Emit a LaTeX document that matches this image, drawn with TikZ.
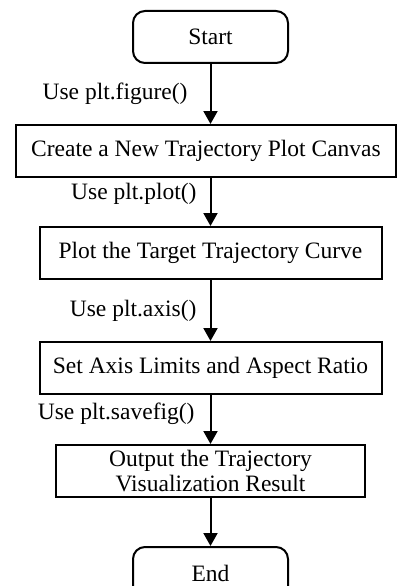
\documentclass[tikz,border=0pt]{standalone}
\usepackage{fontspec}
\setmainfont{Liberation Serif}
\usetikzlibrary{
  arrows.meta,
  positioning
}

\begin{document}
\begin{tikzpicture}[
  node distance=48pt,
  font=\fontsize{23.5}{24.5}\selectfont,
  terminal/.style={
    rectangle,
    rounded corners=12pt,
    draw,
    line width=2pt,
    minimum width=155pt,
    minimum height=52pt,
    inner sep=0pt
  },
  process/.style={
    rectangle,
    draw,
    line width=2pt,
    minimum height=52pt,
    inner sep=0pt,
    align=center
  },
  flow/.style={-{Triangle[length=13pt,width=14pt]}, line width=2pt},
  usage/.style={inner sep=0pt}
]
\useasboundingbox (0,0) rectangle (397pt,-586pt);

\node[terminal] (start) at (210.5pt,-37pt) {Start};
\node[process, minimum width=380pt, below=60pt of start, xshift=-4.5pt] (canvas)
  {Create a New Trajectory Plot Canvas};
\node[process, minimum width=342pt, below=48pt of canvas, xshift=4.5pt] (plot)
  {Plot the Target Trajectory Curve};
\node[process, minimum width=342pt, below=61pt of plot] (axis)
  {Set Axis Limits and Aspect Ratio};
\node[process, minimum width=309pt, below=49pt of axis] (output)
  {Output the Trajectory\\Visualization Result};
\node[terminal, below=48pt of output] (end) {End};

\draw[flow] (start) -- node[usage, pos=0.5, left=22pt] (use-figure) {Use plt.figure()}
  (start |- canvas.north);
\draw[flow] (canvas.south -| plot) -- node[usage, pos=0.33, left=13pt] (use-plot) {Use plt.plot()}
  (plot);
\draw[flow] (plot) -- node[usage, pos=0.5, left=13pt] (use-axis) {Use plt.axis()}
  (axis);
\draw[flow] (axis) -- node[usage, pos=0.39, left=15pt] (use-savefig) {Use plt.savefig()}
  (output);
\draw[flow] (output) -- (end);
\end{tikzpicture}
\end{document}
